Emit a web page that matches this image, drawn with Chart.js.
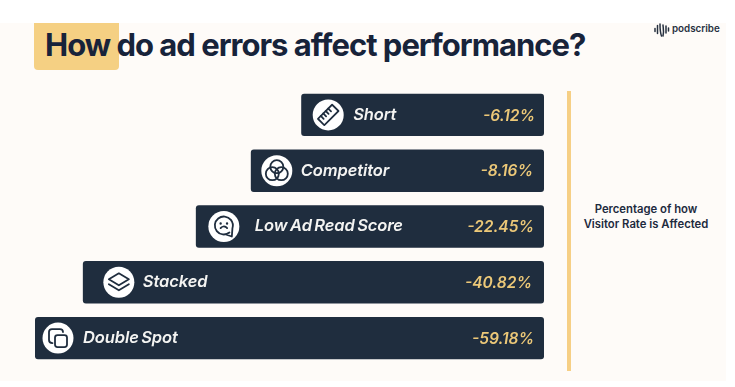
<!DOCTYPE html>
<html>
<head>
<meta charset="utf-8">
<script src="https://cdn.jsdelivr.net/npm/chart.js@4"></script>
<style>
html,body{margin:0;padding:0;background:#fff;overflow:hidden}
#page{position:relative;width:735px;height:387px;overflow:hidden;background:#fff;filter:blur(.5px)}
#paper{position:absolute;left:0;top:23px;width:726px;height:358px;background:#fefbf8}
#mark{position:absolute;left:34px;top:23px;width:85px;height:47px;background:#f5d083;border-radius:0 0 4px 4px}
#title{position:absolute;left:45px;top:23px;font:700 31px Inter,sans-serif;color:#17233a;letter-spacing:-1px;white-space:nowrap;line-height:44px}
#rule{position:absolute;left:567px;top:91px;width:4px;height:280px;background:#f6cf85}
#note{position:absolute;left:571px;top:202px;width:150px;text-align:center;font:600 11.3px/15px Inter,sans-serif;color:#1d2a3e}
#brand{position:absolute;left:672px;top:22px;font:600 9.8px/14px Inter,sans-serif;color:#26303f;white-space:nowrap}
#wave{position:absolute;left:654px;top:22px}
#wrap{position:absolute;left:0;top:0;width:735px;height:387px}
</style>
</head>
<body>
<div id="page">
  <div id="paper"></div>
  <div id="mark"></div>
  <div id="title">How do ad errors affect performance?</div>
  <svg id="wave" width="16" height="16" viewBox="0 0 16 16" fill="none" stroke="#26303f" stroke-width="1.5" stroke-linecap="round">
    <path d="M1 6.5v3M3.5 3.5v8M6 2c0 5 0 8 1.5 12M9 14c1.3-5 0-9 0-11M12 4v7M14.5 6v3"/>
  </svg>
  <div id="brand">podscribe</div>
  <div id="rule"></div>
  <div id="note">Percentage of how<br>Visitor Rate is Affected</div>
  <div id="wrap"><canvas id="c" width="735" height="387"></canvas></div>
</div>
<script>
const categories = ["Short", "Competitor", "Low Ad Read Score", "Stacked", "Double Spot"];
const visitorRateChange = [-6.12, -8.16, -22.45, -40.82, -59.18];
// Drawn length of each bar, as a percentage of the longest: in the reference it does not follow the value.
const barExtent = [47.7, 57.6, 68.4, 90.6, 100];
const iconNames = ["ruler", "circles", "face", "layers", "copy"];

const iconOffset = [27, 26, 28, 36, 23];
const labelOffset = [52, 50, 59, 60, 48];
const valueInset = [9, 11, 10, 12, 10];

const ink = "#1f2d3e";
const drawIcon = {
  ruler(g){
    g.rotate(-Math.PI/4);
    g.strokeRect(-10,-4.5,20,9);
    g.beginPath();
    for(const x of [-6,-2.5,1,4.5]){g.moveTo(x,-4.5);g.lineTo(x,-0.5);}
    g.stroke();
  },
  circles(g){
    for(const [x,y] of [[0,-4],[-4.5,3],[4.5,3]]){g.beginPath();g.arc(x,y,6.5,0,7);g.stroke();}
  },
  face(g){
    g.beginPath();g.arc(0,-1,9,0.9,Math.PI*2+0.3);g.lineTo(8,10);g.lineTo(2,8);g.stroke();
    g.beginPath();g.arc(0,4,4,Math.PI*1.2,Math.PI*1.8);g.stroke();
    g.fillStyle=ink;
    g.beginPath();g.arc(-3.2,-3,1.2,0,7);g.arc(3.2,-3,1.2,0,7);g.fill();
  },
  layers(g){
    g.beginPath();g.moveTo(0,-9);g.lineTo(10,-3);g.lineTo(0,3);g.lineTo(-10,-3);g.closePath();g.stroke();
    g.beginPath();g.moveTo(-10,2);g.lineTo(0,8);g.lineTo(10,2);g.stroke();
  },
  copy(g){
    g.beginPath();g.roundRect(-3,-3,12,12,2.5);g.stroke();
    g.beginPath();g.moveTo(-5.5,5);g.quadraticCurveTo(-9,5,-9,2);g.lineTo(-9,-6);g.quadraticCurveTo(-9,-9,-6,-9);g.lineTo(2,-9);g.quadraticCurveTo(5,-9,5,-6);g.stroke();
  }
};

const rowDecor = {
  id: "rowDecor",
  afterDatasetsDraw(chart){
    const g = chart.ctx, bars = chart.getDatasetMeta(0).data;
    bars.forEach((bar,i)=>{
      const left = Math.min(bar.x,bar.base), right = Math.max(bar.x,bar.base), y = bar.y;
      g.save();
      g.translate(left+iconOffset[i],y);
      g.fillStyle="#fff";
      g.beginPath();g.arc(0,0,15.5,0,7);g.fill();
      g.strokeStyle=ink;g.lineWidth=1.8;g.lineJoin="round";g.lineCap="round";
      drawIcon[iconNames[i]](g);
      g.restore();
      g.save();
      g.textBaseline="middle";
      g.font="italic 600 16.5px Inter, sans-serif";
      g.wordSpacing="-1.6px";
      g.letterSpacing="-.1px";
      g.fillStyle="#f4f4f2";
      g.textAlign="left";
      g.fillText(categories[i],left+labelOffset[i],y);
      g.wordSpacing="0px";
      g.letterSpacing="0px";
      g.font="italic 600 15.5px Inter, sans-serif";
      g.fillStyle="#ecc878";
      g.textAlign="right";
      g.fillText(visitorRateChange[i].toFixed(2)+"%",right-valueInset[i],y+1);
      g.restore();
    });
  }
};

new Chart(document.getElementById("c"),{
  type:"bar",
  data:{labels:categories,datasets:[{
    data:barExtent,
    backgroundColor:ink,
    borderWidth:0,
    borderRadius:3,
    borderSkipped:false,
    barPercentage:0.76,
    categoryPercentage:1
  }]},
  options:{
    indexAxis:"y",
    responsive:false,
    animation:false,
    layout:{padding:{left:35,right:191,top:87,bottom:21}},
    plugins:{legend:{display:false},tooltip:{enabled:false},title:{display:false}},
    scales:{
      x:{display:false,reverse:true,min:0,max:100},
      y:{display:false}
    }
  },
  plugins:[rowDecor]
});
</script>
</body>
</html>
